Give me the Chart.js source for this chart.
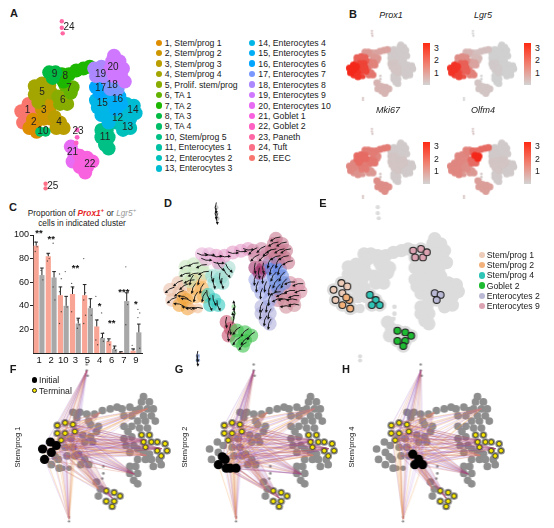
<!DOCTYPE html>
<html>
<head>
<meta charset="utf-8">
<script src="https://cdn.jsdelivr.net/npm/chart.js@4.4.1/dist/chart.umd.min.js"></script>
<style>
html, body { margin: 0; padding: 0; background: #fff; }
body { position: relative; width: 554px; height: 528px; overflow: hidden;
       font-family: "Liberation Sans", Arial, Helvetica, sans-serif; color: #1a1a1a; }
.box { position: absolute; }
.t { position: absolute; white-space: nowrap; line-height: 1; }
.pl { font-weight: bold; font-size: 11px; }
</style>
</head>
<body>
<script>
// ---------------- panel C : proportions ----------------
const groupLabels = ['1', '2', '10', '3', '5', '4', '6', '7', '9'];
const prox1Mean = [91, 82, 49, 50, 49, 22.5, 10, 0.6, 2];
const prox1Err  = [3, 2.5, 7, 6, 9, 5.5, 2, 0.5, 1.5];
const lgr5Mean  = [66, 64, 40, 25, 38, 12.7, 3.4, 44, 17.5];
const lgr5Err   = [6, 5, 8, 4.5, 8, 4, 2.5, 7, 7];
const prox1Dots = [[94, 90, 86], [84, 80, 78], [67, 63, 52, 35, 25], [59, 55, 35], [80, 51, 45, 32, 25],
                   [48, 28, 11, 7], [10, 7], [0.5], [6.5, 3]];
const lgr5Dots  = [[70, 62], [93, 69, 56, 45], [69, 39], [28, 24, 21], [39, 32],
                   [34, 17, 13, 10], [4, 2], [73, 41, 24], [37, 34, 30, 4]];
const sigLabels = ['**', '**', '', '**', '', '*', '**', '***', '*'];
const sigY      = [103, 98, null, 73, null, 41, 27, 53, 43];
const yTicks    = [20, 40, 60, 80, 100];

// ---------------- clusters (panel A) ----------------
const clusterNames = ['Stem/prog 1', 'Stem/prog 2', 'Stem/prog 3', 'Stem/prog 4', 'Prolif. stem/prog',
  'TA 1', 'TA 2', 'TA 3', 'TA 4', 'Stem/prog 5', 'Enterocytes 1', 'Enterocytes 2', 'Enterocytes 3',
  'Enterocytes 4', 'Enterocytes 5', 'Enterocytes 6', 'Enterocytes 7', 'Enterocytes 8', 'Enterocytes 9',
  'Enterocytes 10', 'Goblet 1', 'Goblet 2', 'Paneth', 'Tuft', 'EEC'];
const legendColors = ['#DE8C00', '#CD9600', '#BA9E00', '#A3A500', '#89AC00', '#64B200', '#1DB700',
  '#00BA42', '#00BE67', '#00C086', '#00C1A3', '#00C0BC', '#00BCD3', '#00B6E7', '#00AEF7', '#00A5FF',
  '#7997FF', '#AC88FF', '#CF78FF', '#E86BF3', '#F862DF', '#FF61C3', '#FF67A4', '#FB6F87', '#F8766D'];

// representative cells
const cellX = [15, 17, 23, 24, 29,  24, 31, 32, 28,  36, 44, 38, 46, 40, 48,  52, 58, 62, 54,
  30, 38, 46, 30, 38, 48, 34,  56, 64, 58, 66,  64, 72, 70,  60, 68, 62, 76, 84, 91,  46, 53, 50,  36, 42,
  104, 110, 104, 112, 108, 112,  118, 124, 120,  126, 134, 128, 136,  132, 140, 132, 142, 136,
  98, 106, 100, 108, 104, 112, 112,  116, 124, 118, 126, 120,  98, 106, 102,  112, 120, 114, 122,
  96, 104, 98, 106, 110,  118, 116, 124, 114, 122, 128, 118, 126, 130,
  70, 74, 72,  80, 88, 80, 88, 94, 86,  77, 77, 76,  60, 60, 61,  42, 42];
const cellY = [112, 124, 104, 116, 108,  130, 124, 134, 121,  100, 100, 110, 110, 120, 120,  118, 124, 130, 130,
  85, 82, 84, 94, 94, 92, 102,  96, 98, 104, 104,  84, 86, 92,  72, 72, 80, 68, 66, 64,  70, 70, 76,  134, 134,
  132, 132, 140, 140, 148, 152,  116, 118, 124,  124, 124, 132, 130,  104, 106, 114, 114, 120,
  100, 98, 108, 108, 116, 112, 124,  96, 96, 104, 104, 110,  86, 86, 92,  80, 80, 88, 88,
  66, 64, 74, 74, 68,  52, 58, 58, 66, 66, 66, 74, 74, 80,
  150, 158, 166,  160, 162, 172, 172, 166, 178,  132, 140, 146,  15, 22, 28,  190, 195];
const cellCluster = [1, 1, 1, 1, 1,  2, 2, 2, 2,  3, 3, 3, 3, 3, 3,  4, 4, 4, 4,
  5, 5, 5, 5, 5, 5, 5,  6, 6, 6, 6,  7, 7, 7,  8, 8, 8, 8, 8, 8,  9, 9, 9,  10, 10,
  11, 11, 11, 11, 11, 11,  12, 12, 12,  13, 13, 13, 13,  14, 14, 14, 14, 14,
  15, 15, 15, 15, 15, 15, 15,  16, 16, 16, 16, 16,  17, 17, 17,  18, 18, 18, 18,
  19, 19, 19, 19, 19,  20, 20, 20, 20, 20, 20, 20, 20, 20,
  21, 21, 21,  22, 22, 22, 22, 22, 22,  23, 23, 23,  24, 24, 24,  25, 25];
const labelX = [22, 29, 40, 57, 38, 61, 68, 64, 52, 39, 108, 122, 133, 139, 105, 122, 103, 116, 103, 117, 72, 91, 78, 68, 50];
const labelY = [111, 124, 111, 124, 91, 100, 87, 74, 72, 133, 140, 120, 129, 111, 103, 99, 87, 84, 72, 65, 156, 169, 134, 21, 193];

// ---------------- panel B : expression per cluster ----------------
const prox1Expr = [3, 2.8, 2.5, 1.6, 2.0, 1.4, 1.0, 0.8, 1.0, 2.5, 0.1, 0.1, 0.1, 0.1, 0.2, 0.1, 0.1, 0.1, 0.1, 0.1, 0.5, 0.5, 0.2, 0.3, 0.3];
const lgr5Expr  = [2.8, 2.5, 2.0, 1.4, 1.2, 0.8, 0.4, 0.3, 0.5, 2.2, 0, 0, 0, 0, 0.1, 0, 0, 0, 0, 0, 0.2, 0.2, 0, 0, 0];
const mki67Expr = [1.3, 1.1, 1.5, 1.0, 1.8, 1.6, 1.3, 1.5, 1.5, 1.0, 0.1, 0.1, 0.1, 0.1, 0.2, 0.2, 0.2, 0.1, 0.1, 0.1, 1.2, 1.2, 0.3, 0.3, 0.3];
const olfm4Expr = [1.3, 1.3, 1.2, 1.0, 1.3, 1.8, 3.0, 1.8, 1.4, 1.0, 0.1, 0.1, 0.1, 0.1, 0.2, 0.2, 0.1, 0.1, 0.1, 0.1, 0.9, 0.9, 0.2, 0.3, 0.3];

// ---------------- panel D : velocity direction per cluster ----------------
const velX = [-1, -1, -0.4, 0.3, -1, 0.1, 0.6, 1, 1, -1, -0.3, -1, -1, -1, -0.2, -0.5, 0, -0.4, -0.8, -1, 0, -0.6, 0, 0, 0];
const velY = [0.6, -0.3, 1, 1, 0.3, 1, 0.8, 0.1, 0.2, 0, 1, 0.3, 0, 0.2, 1, 0.8, 1, 1, 0.6, 0.4, 1, 0.6, -1, 1, 1];

// ---------------- panel E : highlighted clusters ----------------
const eClusters = [1, 2, 4, 22, 12, 19];
const eNames = ['Stem/prog 1', 'Stem/prog 2', 'Stem/prog 4', 'Goblet 2', 'Enterocytes 2', 'Enterocytes 9'];

// ---------------- panels F-H : CellRank ----------------
const fghTitles = ['Stem/prog 1', 'Stem/prog 2', 'Stem/prog 4'];
const initialClusters = [[1], [2, 10], [4]];
const terminalClusters = [5, 16, 14, 22];
const edgeTargets = [24, 25, 22, 21, 14, 12, 16, 20, 11, 8];

// =====================================================================
const mapColor = k => legendColors[(k + 23) % 25];
const dColors = ['#EBC0A8', '#F2A33A', '#F5B35A', '#33C9C0', '#C9E6C0', '#8ED8CF', '#A6DCD0', '#E59AC8',
  '#E8B0D8', '#F2C09A', '#B0B0DD', '#C98098', '#D0909C', '#D48AA0', '#9EA8E6', '#7090E0', '#A0306A',
  '#5F7FE0', '#D08AA8', '#C87890', '#C8506E', '#3BC24A', '#7CD67A', '#A0A0A0', '#6A8ED8'];
const eColors = ['#ECCBB8', '#F2B07A', '#2EC4B6', '#1DBA32', '#B9B9D6', '#DCA3B2'];
const thinR = { 23: 2.4, 24: 2.2, 25: 2.2, 10: 5 };
const cellR = i => thinR[cellCluster[i]] || 7;
const cells = cellX.map((x, i) => ({ x: x, y: cellY[i] }));
const idxOf = ks => cellCluster.map((c, i) => ks.includes(c) ? i : -1).filter(i => i >= 0);
const centroid = {};
for (let k = 1; k <= 25; k++) {
  const ids = idxOf([k]);
  centroid[k] = { x: ids.reduce((s, i) => s + cellX[i], 0) / ids.length,
                  y: ids.reduce((s, i) => s + cellY[i], 0) / ids.length };
}

function txt(html, x, y, css, anchor) {
  const d = document.createElement('div');
  d.className = 't';
  d.innerHTML = html;
  d.style.cssText += css || '';
  d.style.left = x + 'px';
  d.style.top = y + 'px';
  d.style.transform = anchor === 'left' ? 'translate(0,-50%)' : (anchor === 'rot' ? 'translate(-50%,-50%) rotate(-90deg)' : 'translate(-50%,-50%)');
  document.body.appendChild(d);
  return d;
}
function panelLetter(l, x, y) { txt(l, x, y).className += ' pl'; }
function dot(x, y, r, color, border) {
  const d = document.createElement('div');
  d.style.cssText = `position:absolute;left:${x - r}px;top:${y - r}px;width:${2 * r}px;height:${2 * r}px;border-radius:50%;background:${color};box-sizing:border-box;` + (border || '');
  document.body.appendChild(d);
}

// embedding placed on the page: page = p + (v - v0) * s
function makeMap(p, datasets, plugins) {
  const wrap = document.createElement('div');
  wrap.className = 'box';
  wrap.style.left = (p.px - 2 * p.sx) + 'px';
  wrap.style.top = (p.py - 50 * p.sy) + 'px';
  wrap.style.width = (140 * p.sx) + 'px';
  wrap.style.height = (195 * p.sy) + 'px';
  const cv = document.createElement('canvas');
  wrap.appendChild(cv);
  document.body.appendChild(wrap);
  datasets.forEach((d, i) => {
    d.clip = false;
    d.order = datasets.length - i;          // first dataset is drawn first (underneath)
    if (d.pointBorderWidth === undefined) d.pointBorderWidth = 0;
    if (d.pointBorderColor === undefined) d.pointBorderColor = 'transparent';
    d.borderColor = 'transparent';
    d.backgroundColor = 'transparent';
  });
  return new Chart(cv, {
    type: 'scatter',
    data: { datasets: datasets },
    options: {
      animation: false, responsive: true, maintainAspectRatio: false, events: [],
      layout: { padding: 0 },
      plugins: { legend: { display: false }, tooltip: { enabled: false } },
      scales: {
        x: { display: false, min: 8, max: 148 },
        y: { display: false, min: 5, max: 200, reverse: true }
      }
    },
    plugins: plugins || []
  });
}

// ---------------- A ----------------
panelLetter('A', 14, 13);
const pA = { px: 10, py: 55, sx: 1, sy: 1 };
makeMap(pA, [{
  data: cells,
  pointRadius: cells.map((c, i) => cellR(i)),
  pointBackgroundColor: cellCluster.map(mapColor)
}], [{
  id: 'clusterLabels',
  afterDatasetsDraw(chart) {
    const { ctx, scales: { x, y } } = chart;
    ctx.save();
    ctx.font = '10px "Liberation Sans", Arial, sans-serif';
    ctx.fillStyle = '#222';
    ctx.textAlign = 'center';
    ctx.textBaseline = 'middle';
    labelX.forEach((lx, i) => ctx.fillText(String(i + 1), x.getPixelForValue(lx), y.getPixelForValue(labelY[i])));
    ctx.restore();
  }
}]);
clusterNames.forEach((n, i) => {
  const col = i < 13 ? 0 : 1, row = i < 13 ? i : i - 13;
  const yy = 42.7 + row * 10.47;
  const dx = col === 0 ? 158.7 : 252.3;
  dot(dx, yy, 3.2, legendColors[i]);
  txt((i + 1) + ', ' + n, dx + 6, yy, 'font-size:8.7px;', 'left');
});

// ---------------- B ----------------
panelLetter('B', 353, 14);
function exprColor(v) {
  const t = Math.min(1, v / 3), a = [208, 208, 208], b = [244, 40, 26];
  return 'rgb(' + a.map((c, i) => Math.round(c + (b[i] - c) * t)).join(',') + ')';
}
const genes = [
  { name: 'Prox1', expr: prox1Expr, px: 343, py: 43.8, tx: 391, ty: 15 },
  { name: 'Lgr5', expr: lgr5Expr, px: 444, py: 43.8, tx: 483, ty: 15 },
  { name: 'Mki67', expr: mki67Expr, px: 343, py: 142.3, tx: 388, ty: 110 },
  { name: 'Olfm4', expr: olfm4Expr, px: 444, py: 142.3, tx: 483, ty: 110 }
];
genes.forEach(g => {
  const p = { px: g.px, py: g.py, sx: 0.548, sy: 0.42 };
  const order = cells.map((c, i) => i).sort((a, b) => g.expr[cellCluster[a] - 1] - g.expr[cellCluster[b] - 1]);
  makeMap(p, [{
    data: order.map(i => cells[i]),
    pointRadius: order.map(i => cellR(i) * 0.5),
    pointBackgroundColor: order.map(i => exprColor(g.expr[cellCluster[i] - 1]))
  }]);
  txt(g.name, g.tx, g.ty, 'font-size:9px;font-style:italic;');
  const cbx = g.px + 80, cby = g.py - 0.8;
  const bar = document.createElement('div');
  bar.style.cssText = `position:absolute;left:${cbx}px;top:${cby}px;width:7px;height:42px;background:linear-gradient(to bottom,#FF2A12,#F08070 50%,#D3D3D3);`;
  document.body.appendChild(bar);
  ['3', '2', '1'].forEach((l, j) => txt(l, cbx + 11, cby + 4.7 + j * 12.5, 'font-size:8.7px;', 'left'));
});

// ---------------- C ----------------
panelLetter('C', 13, 207);
txt('Proportion of <i style="color:#E8262A;font-weight:bold">Prox1<sup style="font-size:6px">+</sup></i> or <i style="color:#9A9A9A">Lgr5<sup style="font-size:6px">+</sup></i>', 82, 212, 'font-size:8.3px;');
txt('cells in indicated cluster', 82, 223, 'font-size:8.3px;');
(function () {
  const wrap = document.createElement('div');
  wrap.className = 'box';
  wrap.style.cssText += 'left:3px;top:228px;width:142px;height:137px;';
  const cv = document.createElement('canvas');
  wrap.appendChild(cv);
  document.body.appendChild(wrap);
  const F = '"Liberation Sans", Arial, sans-serif';
  new Chart(cv, {
    type: 'bar',
    data: {
      labels: groupLabels,
      datasets: [
        { label: 'Prox1+', data: prox1Mean, backgroundColor: '#F8A595', categoryPercentage: 0.95, barPercentage: 0.9 },
        { label: 'Lgr5+', data: lgr5Mean, backgroundColor: '#A8A8A8', categoryPercentage: 0.95, barPercentage: 0.9 }
      ]
    },
    options: {
      animation: false, responsive: true, maintainAspectRatio: false, events: [],
      layout: { padding: { top: 7, right: 3, left: 0, bottom: 0 } },
      plugins: { legend: { display: false }, tooltip: { enabled: false } },
      scales: {
        x: {
          grid: { display: false, drawTicks: false },
          border: { display: true, color: '#222', width: 1 },
          ticks: { color: '#111', font: { size: 9.5, family: F }, padding: 2, maxRotation: 0, autoSkip: false },
          afterFit: s => { s.height = 12; }
        },
        y: {
          min: 0, max: 100,
          afterBuildTicks: s => { s.ticks = yTicks.map(v => ({ value: v })); },
          grid: { drawOnChartArea: false, drawTicks: true, tickLength: 3, color: '#222' },
          border: { display: true, color: '#222', width: 1 },
          ticks: { color: '#111', font: { size: 9, family: F }, padding: 1 },
          afterFit: s => { s.width = 30; }
        }
      }
    },
    plugins: [{
      id: 'errDots',
      afterDatasetsDraw(chart) {
        const { ctx } = chart, ys = chart.scales.y;
        const means = [prox1Mean, lgr5Mean], errs = [prox1Err, lgr5Err], dots = [prox1Dots, lgr5Dots];
        ctx.save();
        [0, 1].forEach(d => {
          chart.getDatasetMeta(d).data.forEach((bar, j) => {
            const top = ys.getPixelForValue(means[d][j] + errs[d][j]);
            ctx.strokeStyle = '#222';
            ctx.lineWidth = 1;
            ctx.beginPath();
            ctx.moveTo(bar.x, bar.y);
            ctx.lineTo(bar.x, top);
            ctx.moveTo(bar.x - 1.8, top);
            ctx.lineTo(bar.x + 1.8, top);
            ctx.stroke();
            ctx.fillStyle = 'rgba(40,40,40,0.75)';
            dots[d][j].forEach((v, k) => {
              ctx.beginPath();
              ctx.arc(bar.x + (k % 2 ? 0.9 : -0.9), ys.getPixelForValue(v), 0.7, 0, Math.PI * 2);
              ctx.fill();
            });
          });
        });
        const m0 = chart.getDatasetMeta(0).data, m1 = chart.getDatasetMeta(1).data;
        ctx.fillStyle = '#111';
        ctx.font = 'bold 9.5px "Liberation Sans", Arial, sans-serif';
        ctx.textAlign = 'center';
        ctx.textBaseline = 'middle';
        sigLabels.forEach((s, j) => {
          if (!s) return;
          ctx.fillText(s, (m0[j].x + m1[j].x) / 2, ys.getPixelForValue(sigY[j]) + 2);
        });
        ctx.restore();
      }
    }]
  });
})();

// ---------------- D ----------------
panelLetter('D', 168, 203);
const pD = { px: 158, py: 238, sx: 1.126, sy: 0.92 };
makeMap(pD, [{
  data: cells,
  pointRadius: cells.map((c, i) => cellR(i) * 1.0),
  pointBackgroundColor: cellCluster.map(k => dColors[k - 1] + '99')
}], [{
  id: 'velocity',
  afterDatasetsDraw(chart) {
    const { ctx, scales: { x, y } } = chart;
    ctx.save();
    ctx.strokeStyle = '#111';
    ctx.fillStyle = '#111';
    ctx.lineWidth = 0.9;
    cells.forEach((c, i) => {
      const k = cellCluster[i] - 1;
      const n = Math.hypot(velX[k], velY[k]) || 1;
      const ux = velX[k] / n, uy = velY[k] / n;
      const cx = x.getPixelForValue(c.x), cy = y.getPixelForValue(c.y);
      const L = 5;
      ctx.beginPath();
      ctx.moveTo(cx - ux * L, cy - uy * L);
      ctx.quadraticCurveTo(cx - uy * 2, cy + ux * 2, cx + ux * L, cy + uy * L);
      ctx.stroke();
      const hx = cx + ux * L, hy = cy + uy * L;
      ctx.beginPath();
      ctx.moveTo(hx + ux * 1.5, hy + uy * 1.5);
      ctx.lineTo(hx - ux * 1.5 - uy * 1.5, hy - uy * 1.5 + ux * 1.5);
      ctx.lineTo(hx - ux * 1.5 + uy * 1.5, hy - uy * 1.5 - ux * 1.5);
      ctx.closePath();
      ctx.fill();
    });
    ctx.restore();
  }
}]);

// ---------------- E ----------------
panelLetter('E', 323, 203);
const pE = { px: 322, py: 238, sx: 1.07, sy: 0.92 };
const eIdx = idxOf(eClusters);
makeMap(pE, [
  { data: cells, pointRadius: cells.map((c, i) => cellR(i) * 0.95), pointBackgroundColor: '#DCDCDC' },
  {
    data: eIdx.map(i => cells[i]),
    pointRadius: 3.4,
    pointBackgroundColor: eIdx.map(i => eColors[eClusters.indexOf(cellCluster[i])]),
    pointBorderColor: '#222', pointBorderWidth: 1.1
  }
]);
eNames.forEach((n, i) => {
  const yy = 255 + i * 10.2;
  dot(481.7, yy, 3.2, eColors[i]);
  txt(n, 486.7, yy, 'font-size:8.7px;', 'left');
});

// ---------------- F, G, H ----------------
const edgeColors = ['rgba(130,60,180,0.35)', 'rgba(236,150,60,0.45)', 'rgba(200,90,60,0.35)', 'rgba(160,90,210,0.3)'];
['F', 'G', 'H'].forEach((L, p) => {
  const off = p * 167;
  panelLetter(L, 13 + off - (p ? 1 : 0), 369);
  txt(fghTitles[p], 18 + off, 447, 'font-size:7.5px;', 'rot');
  const pF = { px: 33 + off, py: 397, sx: 1.04, sy: 0.92 };
  const ini = idxOf(initialClusters[p]);
  const ter = idxOf(terminalClusters.filter(k => !initialClusters[p].includes(k)));
  const sources = idxOf(initialClusters[p].concat([5, 3]));
  makeMap(pF, [
    { data: cells, pointRadius: cells.map((c, i) => cellR(i) * 0.55), pointBackgroundColor: '#8E8E8E' },
    { data: ini.map(i => cells[i]), pointRadius: 4.6, pointBackgroundColor: '#000' },
    { data: ter.map(i => cells[i]), pointRadius: 2.3, pointBackgroundColor: '#F6E600', pointBorderColor: '#222', pointBorderWidth: 0.7 }
  ], [{
    id: 'edges' + p,
    afterDatasetDraw(chart, args) {
      if (args.index !== 0) return;
      const { ctx, scales: { x, y } } = chart;
      ctx.save();
      ctx.lineWidth = 0.7;
      let n = 0;
      sources.forEach(i => {
        edgeTargets.forEach(t => {
          ctx.strokeStyle = edgeColors[n++ % edgeColors.length];
          ctx.beginPath();
          ctx.moveTo(x.getPixelForValue(cellX[i]), y.getPixelForValue(cellY[i]));
          ctx.lineTo(x.getPixelForValue(centroid[t].x), y.getPixelForValue(centroid[t].y));
          ctx.stroke();
        });
      });
      ctx.restore();
    }
  }]);
});
dot(34.5, 380, 2.6, '#000');
txt('Initial', 39, 380, 'font-size:8.7px;', 'left');
dot(34.5, 390.5, 2.6, '#F6E600', 'border:0.8px solid #222;');
txt('Terminal', 39, 390.5, 'font-size:8.7px;', 'left');
</script>
</body>
</html>
